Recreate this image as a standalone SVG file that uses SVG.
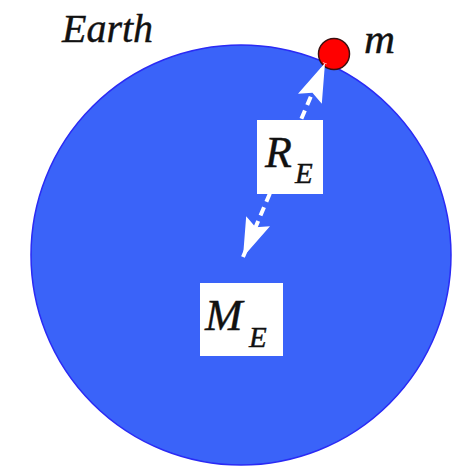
<svg xmlns="http://www.w3.org/2000/svg" width="454" height="466" viewBox="0 0 454 466">
<style>
.lbl{font-family:"Liberation Serif","DejaVu Serif",serif;font-style:italic;fill:#111;stroke:#111;stroke-width:0.4;}
.box{fill:#fff;}
.conn{stroke:#fff;stroke-width:4;stroke-dasharray:9 6;fill:none;}
</style>
<defs>
<marker id="head" markerUnits="userSpaceOnUse" markerWidth="42" markerHeight="32" viewBox="-37 -14 39 28" refX="0" refY="0" orient="auto-start-reverse">
<path d="M0,0 L-36,-12 L-30,0 L-36,12 Z" fill="#fff"/>
</marker>
</defs>
<rect width="454" height="466" fill="#fff"/>
<g id="earth">
<circle cx="241" cy="255" r="210" fill="#3a63f9" stroke="#2a2af5" stroke-width="1.5"/>
<text class="lbl" x="62" y="42" font-size="40">Earth</text>
</g>
<g id="mass">
<circle cx="334" cy="54" r="15.5" fill="#ff0000" stroke="#3a1010" stroke-width="1.5"/>
<text class="lbl" x="364" y="53" font-size="43">m</text>
</g>
<g id="connectors">
<line class="conn" x1="243" y1="257" x2="325" y2="63" marker-start="url(#head)" marker-end="url(#head)"/>
</g>
<g id="radius">
<rect class="box" x="257" y="120" width="66" height="74"/>
<text class="lbl" x="265" y="167" font-size="44">R</text>
<text class="lbl" x="295" y="183" font-size="29">E</text>
</g>
<g id="mearth">
<rect class="box" x="200" y="283" width="83" height="73"/>
<text class="lbl" x="205" y="330" font-size="45">M</text>
<text class="lbl" x="249" y="347" font-size="29">E</text>
</g>
</svg>
